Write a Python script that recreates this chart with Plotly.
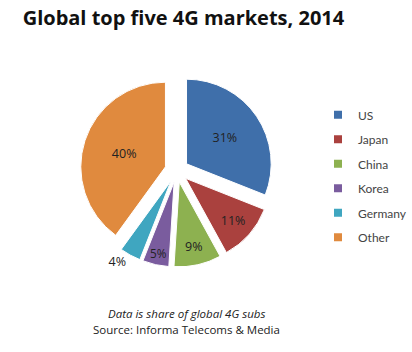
import plotly.graph_objects as go

labels = ["US", "Japan", "China", "Korea", "Germany", "Other"]
values = [31, 11, 9, 5, 4, 40]
colors = ["#3F6FAA", "#AA413E", "#8DB150", "#7A5C9E", "#3FA6C0", "#E08A3E"]
text_pos = ["inside", "inside", "inside", "inside", "outside", "inside"]

fig = go.Figure()
fig.add_trace(go.Pie(
    labels=labels, values=values, sort=False, direction="clockwise", rotation=0,
    marker=dict(colors=colors, line=dict(color="white", width=1)),
    pull=[0.14] * 6,
    texttemplate="%{value}%", textposition=text_pos,
    insidetextorientation="horizontal",
    textfont=dict(family="Open Sans", size=12.5, color="#222"),
    outsidetextfont=dict(family="Open Sans", size=12.5, color="#222"),
    domain=dict(x=[0.199, 0.678], y=[0.2355, 0.7957]),
    hoverinfo="label+percent", showlegend=False,
))

# legend entries (one group each so spacing can be set)
for lab, col in zip(labels, colors):
    fig.add_trace(go.Scatter(
        x=[None], y=[None], mode="markers", name=lab, legendgroup=lab,
        marker=dict(symbol="square", size=8, color=col),
    ))

fig.update_layout(
    width=412, height=352, margin=dict(l=0, r=0, t=0, b=0),
    paper_bgcolor="white", plot_bgcolor="white",
    xaxis=dict(visible=False), yaxis=dict(visible=False),
    title=dict(text="<b>Global top five 4G markets, 2014</b>", x=0.055, xanchor="left",
               y=0.95, yanchor="middle",
               font=dict(family="Open Sans", size=20, color="#111")),
    legend=dict(x=0.79, y=0.715, xanchor="left", yanchor="top",
                font=dict(family="Lato", size=12, color="#444"),
                tracegroupgap=5.5, itemwidth=30, bgcolor="rgba(0,0,0,0)"),
    annotations=[
        dict(text="<i>Data is share of global 4G subs</i>", x=0.463, y=1 - 313 / 352,
             xref="paper", yref="paper", yanchor="middle",
             showarrow=False, font=dict(family="Open Sans", size=11.5, color="#222")),
        dict(text="Source: Informa Telecoms &amp; Media", x=0.463, y=1 - 329 / 352,
             xref="paper", yref="paper", yanchor="middle",
             showarrow=False, font=dict(family="Open Sans", size=11.5, color="#222")),
    ],
)

fig.write_html("out.html")
